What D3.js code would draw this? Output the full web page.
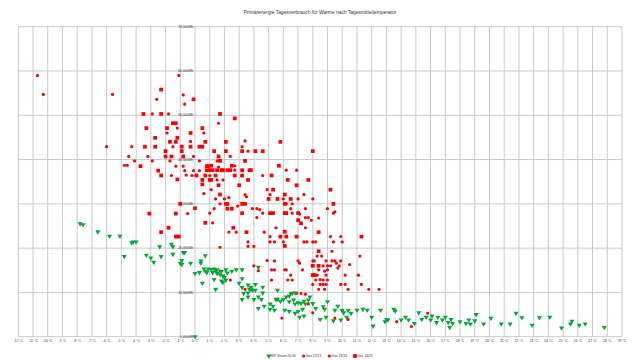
<!DOCTYPE html>
<html>
<head>
<meta charset="utf-8">
<script src="https://cdn.jsdelivr.net/npm/d3@7"></script>
<style>
  body { margin: 0; background: #fff; }
  text { font-family: "Liberation Sans", Arial, sans-serif; }
</style>
</head>
<body>
<div id="chart"></div>
<script>
// x axis categories (°C) and y ticks (kWh)
const tempTicks = [-12, -11, -10, -9, -8, -7, -6, -5, -4, -3, -2, -1, 0, 1, 2, 3, 4, 5, 6, 7, 8, 9, 10,
    11, 12, 13, 14, 15, 16, 17, 18, 19, 20, 21, 22, 23, 24, 25, 26, 27, 28, 29];
const energyTicks = [0, 10, 20, 30, 40, 50, 60, 70];

// [Tagesmitteltemperatur °C, Primärenergie kWh]
const wpStrom2526 = [
    [-7.8, 25.5], [-7.6, 25.3], [-6.6, 23.7], [-5.8, 22.7], [-5.1, 22.7], [-4.3, 21.2], [-4.2, 21.4], [-4.0, 21.4],
    [-4.8, 18.1], [-3.3, 18.4], [-3.0, 17.8], [-2.8, 16.8], [-2.4, 20.3], [-1.6, 20.9], [-1.5, 20.3], [-1.5, 18.6],
    [-0.8, 19.0], [-0.7, 19.0], [0.7, 18.3], [-2.3, 18.1], [-0.9, 17.2], [-1.0, 16.6], [-0.9, 16.3], [-0.3, 16.6],
    [0.4, 17.1], [0.4, 16.6], [0.6, 15.3], [0.9, 15.3], [0.3, 14.5], [0.0, 14.3], [0.8, 14.5], [0.5, 12.1], [0.0, 0.0],
    [0.7, 14.8], [1.1, 15.2], [1.2, 14.5], [1.3, 15.3], [1.4, 14.9], [1.5, 14.3], [1.5, 15.1], [1.7, 14.0], [1.8, 14.8],
    [1.9, 13.7], [2.0, 13.4], [2.1, 15.1], [2.2, 14.4], [2.5, 14.8], [1.3, 12.9], [1.4, 10.7], [1.8, 12.6], [1.9, 12.3],
    [2.1, 12.8], [2.8, 15.1], [3.2, 15.1], [3.2, 13.1], [3.0, 12.1], [3.2, 11.1], [3.3, 9.8], [3.2, 8.4], [3.6, 11.7],
    [3.7, 10.7], [3.8, 10.7], [3.8, 11.2], [3.9, 10.5], [3.6, 9.9], [3.6, 9.0], [4.0, 8.4], [4.1, 10.5], [4.1, 11.8],
    [4.3, 15.7], [4.3, 9.0], [4.5, 8.4], [4.6, 11.2], [4.6, 9.9], [4.3, 6.4], [4.7, 6.9], [5.1, 7.4], [5.3, 6.9],
    [5.6, 8.5], [5.6, 10.5], [5.5, 8.4], [5.8, 8.0], [6.0, 8.4], [6.2, 9.0], [6.4, 9.2], [6.6, 9.8], [6.8, 9.9],
    [6.4, 7.9], [6.7, 8.3], [6.8, 7.4], [7.0, 7.7], [7.2, 7.5], [7.4, 8.0], [7.5, 7.4], [7.7, 8.3], [7.8, 9.0],
    [5.1, 6.2], [5.4, 6.0], [6.1, 6.0], [6.4, 5.7], [6.8, 5.3], [7.0, 5.7], [7.1, 4.4], [7.3, 6.2], [7.4, 4.7],
    [8.0, 7.5], [8.2, 6.4], [8.5, 3.9], [8.7, 6.8], [8.8, 6.2], [9.0, 7.9], [9.5, 6.0], [9.7, 6.9], [10.0, 5.9],
    [10.1, 5.4], [10.3, 4.4], [10.4, 5.9], [10.6, 5.3], [11.0, 6.0], [8.9, 4.4], [9.4, 3.6], [9.9, 3.8], [11.4, 6.2],
    [11.7, 6.0], [12.0, 4.4], [12.1, 2.4], [12.6, 6.0], [12.9, 3.4], [13.0, 3.9], [13.1, 3.8], [13.5, 6.2], [13.6, 5.8],
    [14.0, 3.8], [14.3, 4.4], [14.5, 3.8], [14.9, 3.0], [15.2, 5.4], [15.4, 3.9], [15.7, 4.4], [16.0, 3.8], [16.1, 4.7],
    [16.4, 3.2], [16.5, 4.4], [16.8, 3.8], [17.0, 4.4], [17.2, 3.2], [17.4, 3.9], [17.5, 3.0], [18.0, 3.4], [18.4, 3.0],
    [18.6, 3.8], [17.3, 2.1], [18.7, 2.9], [19.0, 3.6], [19.1, 5.0], [19.6, 2.9], [20.1, 4.2], [20.8, 2.9], [21.4, 2.9],
    [21.8, 5.3], [22.2, 4.3], [22.9, 2.6], [23.4, 4.3], [24.1, 4.4], [24.9, 2.0], [25.5, 2.9], [25.6, 3.5], [26.1, 2.6],
    [26.5, 2.9], [27.8, 2.1]
];

const gas2223 = [
    [-10.7, 59.0], [-5.6, 54.7], [-2.6, 53.6], [-0.7, 52.5], [-1.8, 50.3], [-1.2, 47.1], [0.6, 46.0], [-6.0, 42.9],
    [-1.5, 42.9], [-3.2, 40.7], [-4.1, 39.7], [-1.7, 39.7], [-4.8, 38.7], [-1.3, 38.5], [-0.7, 37.5], [-1.6, 36.4],
    [0.3, 37.5], [-0.6, 36.5], [-0.5, 27.8], [3.2, 42.9], [2.4, 40.7], [2.7, 38.6], [6.2, 37.6], [1.0, 36.4],
    [1.5, 35.4], [1.1, 33.2], [3.4, 32.1], [7.4, 32.1], [2.0, 31.1], [3.5, 31.6], [7.0, 31.1], [6.2, 30.0],
    [1.3, 28.9], [3.9, 28.9], [4.4, 28.7], [7.5, 28.9], [1.0, 27.9], [6.6, 27.9], [7.5, 26.9], [7.9, 26.3],
    [9.4, 27.9], [4.2, 26.9], [7.5, 24.6], [1.7, 30.0], [2.8, 23.6], [3.6, 21.4], [3.6, 20.4], [4.9, 17.2],
    [4.3, 14.9], [2.4, 12.8], [5.2, 12.8], [9.9, 22.6], [5.1, 22.6], [5.4, 21.4], [7.4, 21.4], [8.0, 21.4],
    [9.4, 21.4], [8.3, 18.2], [11.2, 18.2], [7.0, 17.1], [8.0, 17.1], [8.9, 17.1], [9.5, 17.1], [9.9, 17.1],
    [8.7, 16.0], [9.2, 16.0], [5.2, 15.1], [6.1, 15.1], [7.3, 15.1], [8.8, 14.8], [9.7, 15.5], [8.3, 13.9],
    [10.2, 13.9], [6.3, 12.8], [8.2, 12.8], [8.7, 12.8], [8.0, 11.8], [8.7, 11.8], [9.9, 11.8], [11.3, 11.8],
    [8.8, 10.7], [11.8, 10.7], [6.5, 9.8], [7.2, 9.8], [5.6, 8.4], [8.0, 5.4], [9.5, 4.2], [13.7, 3.4], [15.8, 5.3]
];

const gas2324 = [
    [-10.3, 54.7], [-1.1, 59.0], [-0.8, 54.6], [-2.9, 50.3], [1.6, 48.2], [-1.9, 46.0], [-0.3, 44.1], [-4.3, 42.9],
    [-4.5, 40.7], [-0.1, 40.7], [-2.9, 39.7], [0.3, 39.7], [-4.6, 38.7], [-0.8, 38.5], [-0.1, 37.5], [1.5, 39.7],
    [-0.2, 36.4], [0.6, 32.3], [3.4, 44.2], [3.6, 41.9], [1.6, 38.3], [2.7, 37.6], [6.9, 37.6], [4.6, 36.4],
    [1.9, 35.4], [4.9, 33.2], [5.1, 32.1], [1.4, 31.1], [2.3, 31.4], [6.0, 31.1], [8.0, 31.1], [6.6, 30.0],
    [2.9, 29.5], [4.2, 28.9], [6.5, 28.9], [9.0, 28.9], [4.6, 27.9], [7.1, 27.7], [7.7, 26.9], [8.4, 26.8],
    [9.5, 28.2], [5.5, 24.6], [1.2, 25.7], [2.3, 23.6], [4.7, 23.6], [4.0, 20.4], [1.7, 20.2], [4.0, 16.0],
    [1.7, 14.8], [3.4, 10.7], [9.2, 22.6], [10.0, 21.4], [5.1, 21.4], [6.0, 21.4], [7.6, 21.4], [8.2, 21.4],
    [9.3, 19.3], [8.6, 18.2], [5.4, 17.1], [7.1, 16.6], [8.1, 17.1], [9.3, 17.1], [9.6, 16.6], [10.5, 16.3],
    [9.0, 16.0], [9.8, 16.0], [5.4, 15.1], [6.2, 15.1], [8.4, 15.1], [9.0, 15.1], [6.5, 13.9], [8.9, 13.9],
    [11.1, 13.9], [6.6, 12.8], [8.5, 12.9], [9.0, 12.8], [8.5, 11.8], [8.9, 11.8], [10.2, 11.8], [8.4, 10.7],
    [10.4, 10.7], [12.5, 10.7], [6.9, 9.8], [7.5, 9.6], [7.7, 7.4], [5.9, 4.2], [10.4, 3.9], [14.7, 2.3], [10.0, 6.0]
];

const gas2425 = [
    [-2.3, 55.8], [-0.1, 53.6], [-3.5, 50.3], [-2.3, 50.3], [1.7, 50.3], [-1.5, 48.2], [-1.3, 48.2], [-3.3, 47.1],
    [-1.9, 47.1], [0.5, 47.1], [-0.3, 46.0], [-2.7, 44.9], [-1.2, 44.9], [-1.7, 44.0], [-1.3, 44.0], [0.7, 44.0],
    [-3.4, 42.9], [-2.7, 42.9], [-0.9, 42.9], [-0.3, 42.9], [0.3, 42.9], [0.5, 42.9], [1.3, 41.9], [-2.0, 41.9],
    [-0.9, 41.9], [-2.0, 40.7], [-1.6, 40.7], [-0.8, 40.7], [-3.7, 38.5], [-2.5, 37.5], [0.8, 38.5], [0.9, 38.5],
    [-2.3, 36.4], [0.1, 36.4], [0.7, 36.4], [1.7, 39.7], [-1.2, 35.5], [0.5, 35.4], [0.5, 34.4], [-1.0, 30.0],
    [0.0, 29.0], [-3.1, 27.8], [-1.3, 27.8], [-1.8, 24.6], [-2.3, 23.6], [-1.3, 22.6], [-1.1, 22.6], [0.7, 25.7],
    [3.5, 23.6], [2.7, 49.3], [2.1, 44.0], [5.8, 44.0], [2.1, 41.9], [3.2, 41.9], [4.1, 41.9], [4.6, 41.9],
    [8.0, 41.9], [1.6, 40.7], [3.4, 39.7], [5.7, 38.6], [1.1, 38.6], [2.5, 38.6], [0.8, 37.6], [1.0, 37.6],
    [1.2, 37.6], [1.5, 37.6], [1.8, 37.6], [1.9, 37.6], [2.2, 37.6], [2.4, 37.6], [3.2, 37.6], [3.7, 37.6],
    [3.8, 37.6], [1.4, 36.4], [2.7, 36.4], [3.2, 36.4], [5.2, 36.4], [1.0, 35.4], [1.1, 35.4], [3.6, 35.4],
    [6.3, 35.4], [7.7, 35.4], [1.6, 34.2], [3.0, 34.2], [6.9, 34.2], [5.3, 33.2], [9.2, 33.2], [1.7, 32.1],
    [6.1, 32.1], [5.0, 31.1], [5.6, 31.1], [6.5, 31.1], [2.1, 30.0], [2.2, 30.0], [3.2, 30.0], [3.4, 30.0],
    [6.1, 30.0], [9.4, 30.0], [2.2, 28.9], [2.5, 28.9], [3.2, 27.9], [5.1, 27.9], [5.3, 27.9], [6.1, 27.9],
    [6.2, 27.9], [7.0, 27.9], [7.0, 26.3], [7.2, 25.6], [2.6, 24.6], [6.1, 23.7], [5.8, 22.6], [6.2, 22.6],
    [6.9, 22.6], [8.4, 23.6], [11.3, 22.6], [8.4, 19.3], [8.0, 16.0], [8.4, 16.0], [8.0, 13.9], [8.1, 13.9], [6.1, 20.5]
];

const seriesNames = ['WP Strom 25/26', 'Gas 22/23', 'Gas 23/24', 'Gas 24/25'];

function ScatterChart(id, options) {

    var config = {
        w: 640,
        h: 360,
        margin: { top: 26.7, right: 18, bottom: 23.3, left: 18.3 },
        gridColor: '#c3c3c3',
        textColor: '#333333',
        green: '#00a933',
        red: '#ff0000',
        legendGap: 6.5
    };

    if ('undefined' !== typeof options) {
        for (var i in options) {
            if ('undefined' !== typeof options[i]) { config[i] = options[i]; }
        }
    }

    d3.select(id).select('svg').remove();

    var svg = d3.select(id).append('svg')
        .attr('width', config.w)
        .attr('height', config.h);

    var m = config.margin;

    var x = d3.scaleLinear()
        .domain([tempTicks[0], tempTicks[tempTicks.length - 1]])
        .range([m.left, config.w - m.right]);

    var y = d3.scaleLinear()
        .domain([energyTicks[0], energyTicks[energyTicks.length - 1]])
        .range([config.h - m.bottom, m.top]);

    var de = d3.formatLocale({ decimal: ',', thousands: '.', grouping: [3], currency: ['', '€'] });
    var fmtKwh = de.format('.2f');

    // title
    svg.append('text')
        .attr('x', config.w / 2)
        .attr('y', 14)
        .attr('text-anchor', 'middle')
        .style('font-size', '4.9px')
        .style('fill', config.textColor)
        .text('Primärenergie Tagesverbrauch für Wärme nach Tagesmitteltemperatur');

    // grid, vertical
    svg.append('g')
        .selectAll('line')
        .data(tempTicks)
        .join('line')
        .attr('x1', function (d) { return x(d); })
        .attr('x2', function (d) { return x(d); })
        .attr('y1', y.range()[1])
        .attr('y2', y.range()[0])
        .style('stroke', config.gridColor)
        .style('stroke-width', '0.9px');

    // grid, horizontal
    svg.append('g')
        .selectAll('line')
        .data(energyTicks)
        .join('line')
        .attr('x1', x.range()[0])
        .attr('x2', x.range()[1])
        .attr('y1', function (d) { return y(d); })
        .attr('y2', function (d) { return y(d); })
        .style('stroke', config.gridColor)
        .style('stroke-width', '0.9px');

    // x tick labels
    svg.append('g')
        .selectAll('text')
        .data(tempTicks)
        .join('text')
        .attr('x', function (d) { return x(d); })
        .attr('y', y(0) + 5)
        .attr('text-anchor', 'middle')
        .style('font-size', '3.4px')
        .style('fill', config.textColor)
        .text(function (d) { return d + ' °C'; });

    // y tick labels, sitting on the 0 °C line
    svg.append('g')
        .selectAll('text')
        .data(energyTicks)
        .join('text')
        .attr('x', x(0) - 1.5)
        .attr('y', function (d) { return y(d) + 1.2; })
        .attr('text-anchor', 'end')
        .style('font-size', '3.4px')
        .style('fill', config.textColor)
        .text(function (d) { return fmtKwh(d) + 'kWh'; });

    // markers
    var shapes = [
        { data: wpStrom2526, sym: d3.symbol().type(d3.symbolTriangle).size(11), rot: 180, color: config.green },
        { data: gas2223, sym: d3.symbol().type(d3.symbolCircle).size(8), rot: 0, color: config.red },
        { data: gas2324, sym: d3.symbol().type(d3.symbolCircle).size(8), rot: 0, color: config.red },
        { data: gas2425, sym: d3.symbol().type(d3.symbolSquare).size(14), rot: 0, color: config.red }
    ];

    // draw gas first, heat pump on top of it
    [3, 2, 1, 0].forEach(function (k) {
        var s = shapes[k];
        svg.append('g')
            .selectAll('path')
            .data(s.data)
            .join('path')
            .attr('d', s.sym)
            .attr('transform', function (d) {
                return 'translate(' + x(d[0]) + ',' + y(d[1]) + ') rotate(' + s.rot + ')';
            })
            .style('fill', s.color);
    });

    // legend
    var legend = svg.append('g');
    var lx = 0;
    seriesNames.forEach(function (name, k) {
        var item = legend.append('g').attr('transform', 'translate(' + lx + ',0)');
        item.append('path')
            .attr('d', shapes[k].sym)
            .attr('transform', 'translate(1.5,0) rotate(' + shapes[k].rot + ')')
            .style('fill', shapes[k].color);
        var t = item.append('text')
            .attr('x', 3.5)
            .attr('y', 1.2)
            .style('font-size', '3.4px')
            .style('fill', config.textColor)
            .text(name);
        lx += 3.5 + t.node().getComputedTextLength() + config.legendGap;
    });
    lx -= config.legendGap;
    legend.attr('transform', 'translate(' + (config.w / 2 - lx / 2) + ',356)');
}

ScatterChart('#chart');
</script>
</body>
</html>
